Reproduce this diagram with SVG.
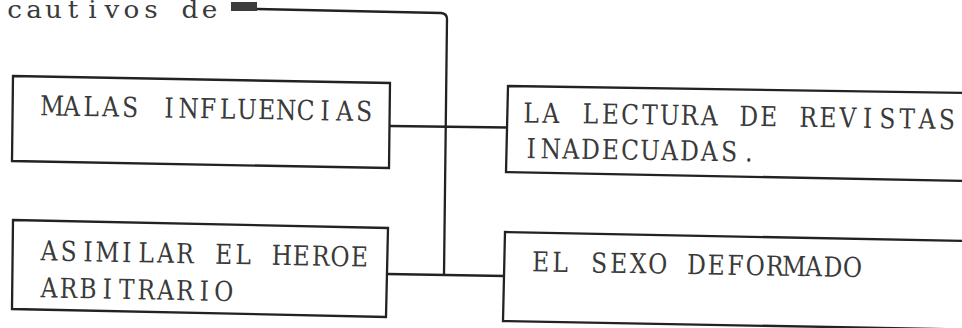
<svg xmlns="http://www.w3.org/2000/svg" width="962" height="328" viewBox="0 0 962 328">
<style>
.box{fill:none;stroke:#222;stroke-width:2.3;stroke-linejoin:miter}
.con{fill:none;stroke:#222;stroke-width:2.3}
.t{font-family:"DejaVu Serif","Liberation Serif",serif;font-size:27.5px;fill:#3a3a3a;text-anchor:middle}
.lc{font-family:"DejaVu Serif","Liberation Serif",serif;font-size:25px;fill:#3a3a3a;text-anchor:middle}
</style>
<rect width="962" height="328" fill="#fff"/>
<g id="connectors">
  <rect x="231" y="2" width="26" height="9" fill="#3c3c3c"/>
  <path class="con" d="M257,9 L441,13 Q447,13.5 447,19 L444,275"/>
  <path class="con" d="M390,126 L508,127.5"/>
  <path class="con" d="M387,274 L505,276"/>
</g>
<g id="node-cautivos">
  <text class="lc" transform="translate(14.5,17.5) scale(1.05,1)" x="0 18.57 37.14 55.71 74.28 92.85 111.42 129.99 148.56 167.13 185.7" y="0">cautivos de</text>
</g>
<g id="node-malas">
  <path class="box" d="M13,76 L390,83 L389,168 L12,161 Z"/>
  <text class="t" transform="translate(52,115.5) rotate(1) scale(0.85,1)" x="0 22.94 45.88 68.82 91.76 114.7 137.64 160.58 183.52 206.46 229.4 252.34 275.28 298.22 321.16 344.1 367.04" y="0">MALAS INFLUENCIAS</text>
</g>
<g id="node-lectura">
  <path class="box" d="M966,93 L508,86 L506,172 L966,181"/>
  <text class="t" transform="translate(531,122.5) rotate(0.9) scale(0.85,1)" x="0 23.29 46.58 69.87 93.16 116.45 139.74 163.03 186.32 209.61 232.9 256.19 279.48 302.77 326.06 349.35 372.64 395.93 419.22 442.51 465.8 489.09" y="0">LA LECTURA DE REVISTAS</text>
  <text class="t" transform="translate(531,158) rotate(0.9) scale(0.85,1)" x="0 23.29 46.58 69.87 93.16 116.45 139.74 163.03 186.32 209.61 232.9 256.19" y="0">INADECUADAS.</text>
</g>
<g id="node-asimilar">
  <path class="box" d="M13,220 L388,228 L386,317 L12,309 Z"/>
  <text class="t" transform="translate(49,260.5) rotate(1.1) scale(0.85,1)" x="0 22.82 45.64 68.46 91.28 114.1 136.92 159.74 182.56 205.38 228.2 251.02 273.84 296.66 319.48 342.3 365.12" y="0">ASIMILAR EL HEROE</text>
  <text class="t" transform="translate(49,297.5) rotate(1.1) scale(0.85,1)" x="0 22.82 45.64 68.46 91.28 114.1 136.92 159.74 182.56 205.38" y="0">ARBITRARIO</text>
</g>
<g id="node-sexo">
  <path class="box" d="M966,241 L505,232 L503,321 L966,329.5"/>
  <text class="t" transform="translate(540.5,271.5) rotate(1) scale(0.85,1)" x="0 22.94 45.88 68.82 91.76 114.7 137.64 160.58 183.52 206.46 229.4 252.34 275.28 298.22 321.16 344.1 367.04" y="0">EL SEXO DEFORMADO</text>
</g>
</svg>
